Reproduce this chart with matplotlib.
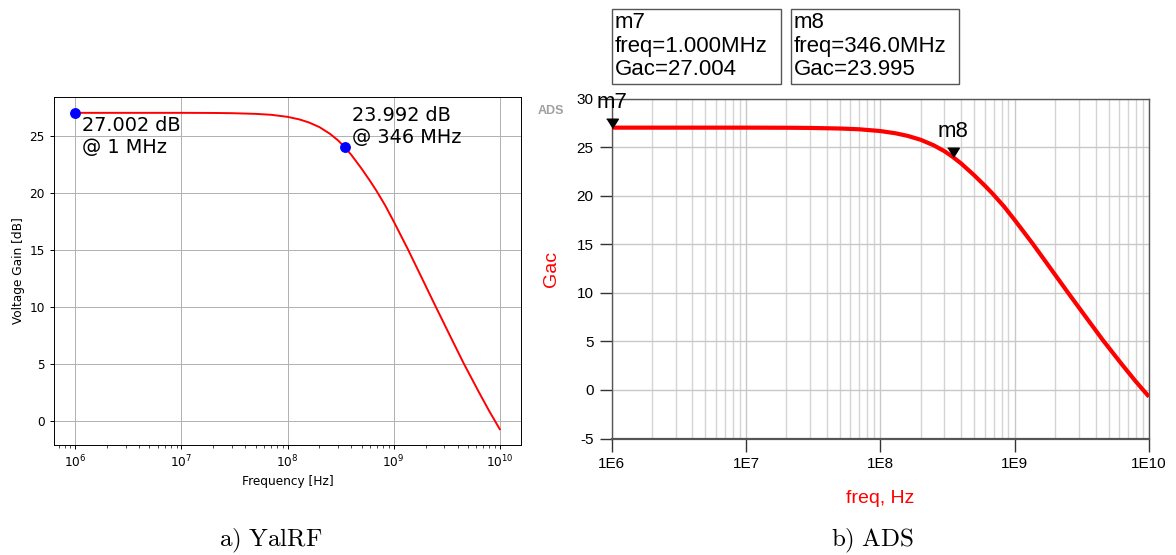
import numpy as np
import matplotlib
matplotlib.use('Agg')
import matplotlib.pyplot as plt
from matplotlib.patches import Rectangle
from matplotlib.ticker import FixedLocator, LogLocator, NullFormatter

plt.rcParams['mathtext.fontset'] = 'cm'

# gain curve
freq_hz = [1e6, 3e6, 1e7, 2e7, 3e7, 5e7, 7e7, 1e8, 1.3e8, 1.6e8, 2e8, 2.5e8,
           3e8, 3.46e8, 4e8, 5e8, 6.03e8, 6.86e8, 8.32e8, 1e9, 1.164e9,
           1.355e9, 1.83e9, 2.47e9, 3.35e9, 4.55e9, 6.31e9, 7.94e9, 8.91e9,
           1e10]
gain_db = [27.00, 27.00, 27.00, 26.99, 26.97, 26.91, 26.83, 26.65, 26.42,
           26.15, 25.75, 25.18, 24.58, 23.99, 23.31, 22.10, 21.00, 20.20,
           18.90, 17.50, 16.30, 15.10, 12.60, 10.10, 7.60, 5.10, 2.60, 0.90,
           0.10, -0.70]

# marker points
yal_freq = [1e6, 346e6]
yal_gain = [27.002, 23.992]
yal_text = ['27.002 dB\n@ 1 MHz', '23.992 dB\n@ 346 MHz']

ads_names = ['m7', 'm8']
ads_freq = [1e6, 346e6]
ads_gain = [27.004, 23.995]
ads_lines = [['m7', 'freq=1.000MHz', 'Gac=27.004'],
             ['m8', 'freq=346.0MHz', 'Gac=23.995']]

ads_yticks = [-5, 0, 5, 10, 15, 20, 25, 30]
ads_xticks = [1e6, 1e7, 1e8, 1e9, 1e10]
ads_xlabels = ['1E6', '1E7', '1E8', '1E9', '1E10']

W, H = 1176, 555
fig = plt.figure(figsize=(W / 100, H / 100), dpi=100)

# ---- a) YalRF : plain matplotlib look ----
ax1 = fig.add_axes([54 / W, 1 - 445 / H, 467 / W, 348 / H])
ax1.semilogx(freq_hz, gain_db, color='red', lw=1.4)
ax1.plot(yal_freq, yal_gain, 'o', color='blue', ms=6.8)
ax1.grid(True, color='#b0b0b0', lw=0.7)
ax1.set_xlabel('Frequency [Hz]', fontsize=8.7, labelpad=3)
ax1.set_ylabel('Voltage Gain [dB]', fontsize=8.7, labelpad=3)
ax1.tick_params(labelsize=8.7, width=0.7, length=3)
ax1.tick_params(which='minor', width=0.5, length=2)
for s in ax1.spines.values():
    s.set_linewidth(0.7)
ax1.annotate(yal_text[0], (yal_freq[0], yal_gain[0]), xytext=(4.8, -2.5),
             textcoords='offset points', ha='left', va='top', fontsize=13.9)
ax1.annotate(yal_text[1], (yal_freq[1], yal_gain[1]), xytext=(5, 0),
             textcoords='offset points', ha='left', va='bottom', fontsize=13.9)

# ---- b) ADS look ----
ads_font = 'Liberation Sans'
ax2 = fig.add_axes([611.5 / W, 1 - 438.5 / H, 537.5 / W, 340 / H])
ax2.set_xscale('log')
ax2.set_xlim(1e6, 1e10)
ax2.set_ylim(-5, 30)
ax2.xaxis.set_major_locator(FixedLocator(ads_xticks))
ax2.set_xticklabels(ads_xlabels, fontfamily=ads_font, fontsize=11)
ax2.xaxis.set_minor_locator(LogLocator(base=10, subs=np.arange(2, 10), numticks=20))
ax2.xaxis.set_minor_formatter(NullFormatter())
ax2.set_yticks(ads_yticks)
ax2.set_yticklabels([str(v) for v in ads_yticks], fontfamily=ads_font, fontsize=11)
ax2.grid(True, which='major', color='#c8c8c8', lw=1)
ax2.grid(True, which='minor', axis='x', color='#d4d4d4', lw=1)
ax2.tick_params(which='major', length=9, width=1, color='#333333', pad=4)
ax2.tick_params(which='minor', length=0)
for side, s in ax2.spines.items():
    s.set_color('#555555')
    s.set_linewidth(1.0)
ax2.spines['bottom'].set_linewidth(1.6)
ax2.plot(freq_hz, gain_db, color='red', lw=3, solid_capstyle='butt', zorder=3)

tri = [(-1, 1.6), (1, 1.6), (0, 0)]
ax2.plot(ads_freq, ads_gain, linestyle='none', marker=tri, ms=13.4,
         color='black', clip_on=False, zorder=4)
for name, f, g in zip(ads_names, ads_freq, ads_gain):
    ax2.annotate(name, (f, g), xytext=(0, 18), textcoords='offset points',
                 ha='center', va='center', fontsize=16, fontfamily=ads_font)

ax2.set_xlabel('freq, Hz', color='red', fontsize=14, fontfamily=ads_font,
               labelpad=14)
ax2.set_ylabel('Gac', color='red', fontsize=14, fontfamily=ads_font,
               labelpad=12)
fig.text(551 / W, 1 - 111 / H, 'ADS', color='#a0a0a0', fontsize=9,
         fontweight='bold', fontfamily=ads_font, ha='center', va='center')

# marker readout boxes
box_left = [611.5, 790.5]
box_right = [780.5, 958.5]
for i, lines in enumerate(ads_lines):
    x0, x1 = box_left[i], box_right[i]
    fig.patches.append(Rectangle((x0 / W, 1 - 84 / H), (x1 - x0) / W, 75.5 / H,
                                 transform=fig.transFigure, fc='white',
                                 ec='#555555', lw=1))
    for k, line in enumerate(lines):
        fig.text((x0 + 3.5) / W, 1 - (28.3 + 23.4 * k) / H, line, fontsize=16,
                 fontfamily=ads_font, ha='left', va='baseline')

# captions
fig.text(271 / W, 1 - 541 / H, r'$\mathrm{a)\ YalRF}$', fontsize=18,
         ha='center', va='center')
fig.text(873 / W, 1 - 541 / H, r'$\mathrm{b)\ ADS}$', fontsize=18,
         ha='center', va='center')

fig.savefig('out.png', dpi=100)
